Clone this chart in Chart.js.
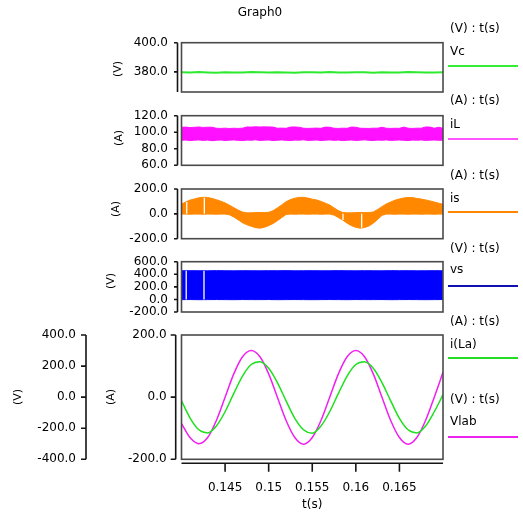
<!DOCTYPE html>
<html>
<head>
<meta charset="utf-8">
<title>Graph0</title>
<script src="https://cdn.jsdelivr.net/npm/chart.js@4.4.1/dist/chart.umd.min.js"></script>
<style>
body{margin:0;background:#fff;}
#wrap{position:relative;width:523px;height:512px;background:#fff;font-family:"DejaVu Sans",sans-serif;font-size:12px;color:#000;overflow:hidden;}
#wrap canvas{position:absolute;left:0;top:0;}
.t{position:absolute;left:450px;line-height:14px;white-space:nowrap;}
.ln{position:absolute;left:448px;width:70px;height:2px;}
</style>
</head>
<body>
<div id="wrap">
  <canvas id="c1" width="523" height="512"></canvas>
  <canvas id="c2" width="523" height="512"></canvas>
  <canvas id="c3" width="523" height="512"></canvas>
  <canvas id="c4" width="523" height="512"></canvas>
  <canvas id="c5" width="523" height="512"></canvas>

  <div class="t" style="left:200px;width:120px;text-align:center;top:5px">Graph0</div>

  <div class="t" style="top:21px">(V) : t(s)</div>
  <div class="t" style="top:44px">Vc</div>
  <div class="ln" style="top:64.7px;background:#33ee33"></div>

  <div class="t" style="top:93px">(A) : t(s)</div>
  <div class="t" style="top:117px">iL</div>
  <div class="ln" style="top:138px;background:#ff55ff"></div>

  <div class="t" style="top:168px">(A) : t(s)</div>
  <div class="t" style="top:190.5px">is</div>
  <div class="ln" style="top:211.3px;background:#ff8800"></div>

  <div class="t" style="top:240.5px">(V) : t(s)</div>
  <div class="t" style="top:262.2px">vs</div>
  <div class="ln" style="top:284.7px;background:#1010b0"></div>

  <div class="t" style="top:314.3px">(A) : t(s)</div>
  <div class="t" style="top:337.3px">i(La)</div>
  <div class="ln" style="top:357.3px;background:#22dd22"></div>
  <div class="t" style="top:392.3px">(V) : t(s)</div>
  <div class="t" style="top:414.3px">Vlab</div>
  <div class="ln" style="top:435.7px;background:#ee22ee"></div>
</div>

<script>
/* DATA */
const tCoarse=[0.140,0.141,0.142,0.143,0.144,0.145,0.146,0.147,0.148,0.149,
  0.150,0.151,0.152,0.153,0.154,0.155,0.156,0.157,0.158,0.159,
  0.160,0.161,0.162,0.163,0.164,0.165,0.166,0.167,0.168,0.169,0.170];
const tFine=[0.14,0.1405,0.141,0.1415,0.142,0.1425,0.143,0.1435,0.144,0.1445,
  0.145,0.1455,0.146,0.1465,0.147,0.1475,0.148,0.1485,0.149,0.1495,
  0.15,0.1505,0.151,0.1515,0.152,0.1525,0.153,0.1535,0.154,0.1545,
  0.155,0.1555,0.156,0.1565,0.157,0.1575,0.158,0.1585,0.159,0.1595,
  0.16,0.1605,0.161,0.1615,0.162,0.1625,0.163,0.1635,0.164,0.1645,
  0.165,0.1655,0.166,0.1665,0.167,0.1675,0.168,0.1685,0.169,0.1695,0.17];
const xTicks=[0.145,0.15,0.155,0.16,0.165];

/* Vc */
const vcTicks=[380,400];
const vc=[379.7,379.5,379.9,379.6,379.4,379.8,379.6,379.5,379.9,379.7,
  379.5,379.8,379.6,379.4,379.8,379.7,379.5,379.9,379.6,379.5,
  379.8,379.7,379.4,379.8,379.6,379.5,379.9,379.7,379.5,379.6,379.7];

/* iL band (upper / lower edge) */
const ilTicks=[60,80,100,120];
const ilHi=[106,106.2,105.6,106,106.3,105.8,106.1,106,104.8,104.6,
  104.9,104.5,104.8,104.6,104.9,106.4,106.2,106.6,106.3,106.5,
  106.4,106.2,104.8,105,104.7,106.2,106.4,106,104.8,104.6,
  104.8,105,104.7,106.2,106,104.8,104.6,104.9,104.7,106.3,
  106,104.8,104.7,104.6,104.9,104.8,106,104.8,104.6,104.8,
  104.7,106.2,104.8,104.6,104.9,104.8,106.4,106.2,104.8,106,104.8];
const ilLo=[90.2,90.6,89.9,90.4,90.7,90.1,90.5,89.8,90.3,90.6,
  90,90.4,90.7,90.2,89.9,90.5,90.3,90.8,90.1,90.4,
  90.6,90,90.3,90.7,90.2,89.9,90.5,90.4,90.8,90.1,
  90.3,90.6,90,90.4,90.7,90.2,90.5,89.9,90.3,90.6,
  90.1,90.4,90.8,90.2,90,90.5,90.3,90.7,90.1,90.4,
  90.6,90.2,89.9,90.5,90.3,90.7,90.1,90.4,90.6,90.2,90.4];

/* is band */
const isTicks=[-200,0,200];
const isHi=[79,96,111,120,129,133,132,124,114,102,
  88,70,50,30,14,8,8,10,10,10,
  12,25,48,72,98,115,126,132,133,127,
  118,112,100,86,72,48,26,10,8,8,
  10,10,10,10,15,35,58,80,95,110,
  120,128,131,131,124,119,112,104,95,86,77];
const isLo=[-2,-2,-3,-2,-2,-3,-2,-2,-3,-2,
  -2,-8,-25,-48,-72,-88,-100,-111,-115,-108,
  -95,-78,-55,-30,-5,-2,-3,-2,-2,-3,
  -2,-2,-3,-2,-2,-10,-30,-50,-75,-95,
  -108,-115,-110,-98,-75,-45,-12,-2,-2,-3,
  -2,-2,-3,-2,-2,-3,-2,-2,-3,-2,-2];
const isGapT=[0.1406,0.14262,0.15853,0.16067];
const isGapLo=[0,0,-50,-112];
const isGapHi=[95,130,0,0];

/* vs band */
const vsTicks=[-200,0,200,400,600];
const vsHi=[455,457,456,455,458,456,455,457,456,455,
  457,456,458,455,456,457,455,456,458,456,
  455,457,456,455,458,456,457,455,456,457,456];
const vsLo=[-3,-2,-4,-3,-2,-3,-4,-2,-3,-3,
  -2,-4,-3,-2,-3,-4,-3,-2,-3,-4,
  -2,-3,-3,-2,-4,-3,-2,-3,-4,-3,-2];
const vsGapT=[0.14054,0.14258];
const vsGapLo=[0,0];
const vsGapHi=[456,456];

/* i(La) and Vlab */
const aTicks=[-200,0,200];
const vTicks=[-400,-200,0,200,400];
const iLa=[-12,-68,-105,-115,-93,-47,12,68,105,114,
  93,47,-12,-68,-105,-116,-93,-47,12,68,
  105,114,93,47,-12,-68,-105,-115,-93,-47,8];
const vlab=[-170,-262,-300,-260,-150,0,150,260,300,260,
  150,0,-150,-260,-303,-260,-150,0,150,260,
  300,260,150,0,-150,-260,-303,-260,-150,0,160];

/* HELPERS */
Chart.defaults.font.family='"DejaVu Sans", sans-serif';
Chart.defaults.font.size=12;
Chart.defaults.color='#000';

const pts=(t,v)=>t.map((x,i)=>({x,y:v[i]}));
const gaps=(t,lo,hi)=>t.flatMap((x,i)=>[{x,y:lo[i]},{x,y:hi[i]},{x,y:null}]);

function yScale(min,max,ticks,width,pad,extra){
  return Object.assign({
    type:'linear',position:'left',min,max,
    afterBuildTicks:s=>{s.ticks=ticks.map(v=>({value:v}));},
    afterFit:s=>{s.width=width;},
    ticks:{autoSkip:false,padding:pad,color:'#000',callback:v=>v.toFixed(1)},
    grid:{display:false,drawTicks:false},
    border:{display:false}
  },extra||{});
}

function band(hiT,hi,loT,lo,color){
  return [
    {data:pts(hiT,hi),borderColor:color,backgroundColor:color,borderWidth:1,fill:'+1'},
    {data:pts(loT,lo),borderColor:color,backgroundColor:color,borderWidth:1,fill:false}
  ];
}

// dropouts: thin white lines drawn on top of the band
function whiteGaps(t,lo,hi){
  return {data:gaps(t,lo,hi),borderColor:'#ffffff',borderWidth:1.3,fill:false,spanGaps:false,order:-1};
}

/* box, offset axis lines, unit labels */
function frame(cfg){
  return {
    id:'frame',
    afterDraw(chart){
      const {ctx,chartArea:a}=chart;
      ctx.save();
      ctx.lineWidth=1.6;
      ctx.strokeStyle='#4a4a4a';
      ctx.strokeRect(a.left,a.top,a.right-a.left,a.bottom-a.top);
      ctx.strokeStyle='#151515';
      cfg.axes.forEach(ax=>{
        const s=chart.scales[ax.id];
        ctx.beginPath();
        ctx.moveTo(ax.x,s.getPixelForValue(s.max));
        ctx.lineTo(ax.x,s.getPixelForValue(s.min));
        s.ticks.forEach(tk=>{
          const y=s.getPixelForValue(tk.value);
          ctx.moveTo(ax.x-ax.len,y);
          ctx.lineTo(ax.x,y);
        });
        ctx.stroke();
      });
      if(cfg.xAxis){
        const s=chart.scales.x, y=cfg.xAxis.y;
        ctx.beginPath();
        ctx.moveTo(a.left,y);
        ctx.lineTo(a.right,y);
        s.ticks.forEach(tk=>{
          const x=s.getPixelForValue(tk.value);
          ctx.moveTo(x,y);
          ctx.lineTo(x,y+cfg.xAxis.len);
        });
        ctx.stroke();
      }
      ctx.fillStyle='#000';
      ctx.font='11px "DejaVu Sans", sans-serif';
      ctx.textAlign='center';
      ctx.textBaseline='middle';
      cfg.units.forEach(u=>{
        ctx.save();
        ctx.translate(u.x,u.y);
        ctx.rotate(-Math.PI/2);
        ctx.fillText(u.text,0,0);
        ctx.restore();
      });
      ctx.restore();
    }
  };
}

function panel(id,top,bottom,datasets,scales,cfg,xScale){
  return new Chart(document.getElementById(id),{
    type:'line',
    data:{datasets},
    options:{
      responsive:false,animation:false,events:[],
      layout:{padding:{top,bottom:xScale?0:512-bottom,left:0,right:80}},
      plugins:{legend:{display:false},tooltip:{enabled:false}},
      elements:{point:{radius:0},line:{borderWidth:1.5,tension:0}},
      scales:Object.assign({x:xScale||{type:'linear',min:0.14,max:0.17,display:false}},scales)
    },
    plugins:[frame(cfg)]
  });
}

/* PANELS */
panel('c1',42.7,92,
  [{data:pts(tCoarse,vc),borderColor:'#2eea2e',borderWidth:2,fill:false}],
  {y:yScale(366.2,400,vcTicks,181.5,13.5)},
  {axes:[{id:'y',x:177.5,len:3.5}],units:[{text:'(V)',x:118,y:69}]});

panel('c2',115.7,165.3,
  band(tFine,ilHi,tFine,ilLo,'#ff10ff'),
  {y:yScale(60,120,ilTicks,181.5,13.5)},
  {axes:[{id:'y',x:177.5,len:3.5}],units:[{text:'(A)',x:119.5,y:138}]});

panel('c3',189,238.7,
  band(tFine,isHi,tFine,isLo,'#ff8800').concat([whiteGaps(isGapT,isGapLo,isGapHi)]),
  {y:yScale(-200,200,isTicks,181.5,13.5)},
  {axes:[{id:'y',x:177.5,len:3.5}],units:[{text:'(A)',x:116,y:209}]});

panel('c4',261.7,312,
  band(tCoarse,vsHi,tCoarse,vsLo,'#0000ff').concat([whiteGaps(vsGapT,vsGapLo,vsGapHi)]),
  {y:yScale(-200,600,vsTicks,181.5,13.5)},
  {axes:[{id:'y',x:177.5,len:3.5}],units:[{text:'(V)',x:111.5,y:281}]});

panel('c5',335,459.3,
  [
    {data:pts(tCoarse,iLa),yAxisID:'yA',borderColor:'#1ee01e',fill:false,cubicInterpolationMode:'monotone'},
    {data:pts(tCoarse,vlab),yAxisID:'yV',borderColor:'#f020f0',fill:false,cubicInterpolationMode:'monotone'}
  ],
  {
    yA:yScale(-200,200,aTicks,91.5,14.8,{weight:0}),
    yV:yScale(-400,400,vTicks,90,14,{weight:1})
  },
  {axes:[{id:'yA',x:175.7,len:5},{id:'yV',x:86,len:5}],xAxis:{y:463.3,len:8.4},
   units:[{text:'(V)',x:18,y:397},{text:'(A)',x:111,y:397}]},
  {
    type:'linear',position:'bottom',min:0.14,max:0.17,
    afterBuildTicks:s=>{s.ticks=xTicks.map(v=>({value:v}));},
    afterFit:s=>{s.height=52.7;},
    ticks:{autoSkip:false,maxRotation:0,padding:21,color:'#000',callback:v=>String(v)},
    grid:{display:false,drawTicks:false},
    border:{display:false},
    title:{display:true,text:'t(s)',color:'#000',padding:{top:0,bottom:0}}
  });
</script>
</body>
</html>
